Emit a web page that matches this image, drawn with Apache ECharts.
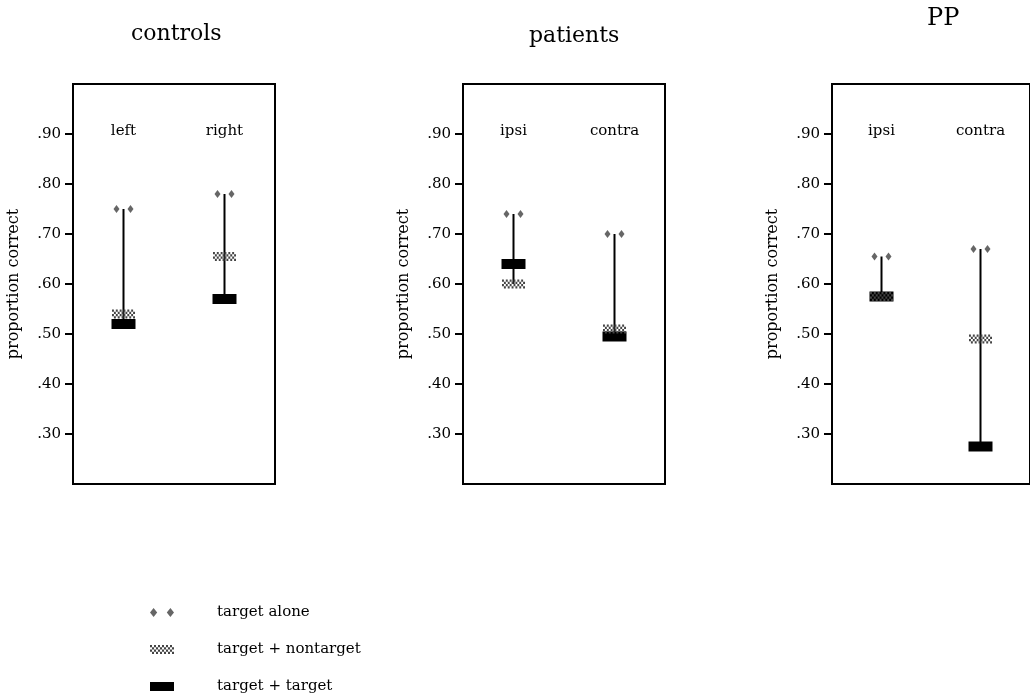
<!DOCTYPE html>
<html>
<head>
<meta charset="utf-8">
<script src="https://cdn.jsdelivr.net/npm/echarts@6/dist/echarts.min.js"></script>
<style>html,body{margin:0;padding:0;background:#fff;}#c{width:1030px;height:698px;}</style>
</head>
<body>
<div id="c"></div>
<script>
// ---- data ----
var panelTitles = ['controls', 'patients', 'PP'];
var controlsCats = ['left', 'right'];
var patientsCats = ['ipsi', 'contra'];
var ppCats = ['ipsi', 'contra'];

var controlsAlone = [0.75, 0.78];
var controlsNontarget = [0.54, 0.655];
var controlsTarget = [0.52, 0.57];

var patientsAlone = [0.74, 0.70];
var patientsNontarget = [0.60, 0.51];
var patientsTarget = [0.64, 0.495];

var ppAlone = [0.655, 0.67];
var ppNontarget = [0.575, 0.49];
var ppTarget = [0.575, 0.275];

var yTickValues = [0.3, 0.4, 0.5, 0.6, 0.7, 0.8, 0.9];
var yTickLabels = ['.30', '.40', '.50', '.60', '.70', '.80', '.90'];
var seriesNames = ['target alone', 'target + nontarget', 'target + target'];
var yName = 'proportion correct';

// ---- styles ----
function checkerPath(cols, rows) {
  var d = '';
  for (var r = 0; r < rows; r++) for (var c = 0; c < cols; c++)
    if ((r + c) % 2 === 0) d += 'M' + c + ',' + r + 'h1v1h-1Z';
  return 'path://' + d;
}
var aloneSym = 'path://M0,4L3,0L6,4L3,8Z M14,4L17,0L20,4L17,8Z';
var checkSym = checkerPath(12, 4);
var serif = 'DejaVu Serif';

var panels = [
  {cats: controlsCats, a: controlsAlone, n: controlsNontarget, t: controlsTarget, left: 73, tl: 126, tt: 18, ts: 22},
  {cats: patientsCats, a: patientsAlone, n: patientsNontarget, t: patientsTarget, left: 463, tl: 524, tt: 20, ts: 22},
  {cats: ppCats, a: ppAlone, n: ppNontarget, t: ppTarget, left: 832, tl: 922, tt: 2, ts: 24}
];

var grid = [], xAxis = [], yAxis = [], series = [], title = [];
panels.forEach(function (p, i) {
  grid.push({left: p.left, top: 84, width: 202, height: 400, show: true, borderColor: '#000', borderWidth: 2, backgroundColor: 'transparent'});
  title.push({text: panelTitles[i], left: p.tl, top: p.tt, textStyle: {fontFamily: serif, fontWeight: 'normal', fontSize: p.ts, color: '#000'}});
  xAxis.push({type: 'category', gridIndex: i, data: p.cats, position: 'top',
    axisLine: {show: false}, axisTick: {show: false}, splitLine: {show: false},
    axisLabel: {inside: true, margin: 40, color: '#000', fontFamily: serif, fontSize: 15}});
  yAxis.push({type: 'value', gridIndex: i, min: 0.2, max: 1.0, interval: 0.1,
    name: yName, nameLocation: 'middle', nameGap: 51, nameRotate: 90,
    nameTextStyle: {fontFamily: serif, fontSize: 16, color: '#000'},
    axisLine: {show: false}, splitLine: {show: false},
    axisTick: {show: true, inside: false, length: 8, lineStyle: {color: '#000', width: 2}, customValues: yTickValues},
    axisLabel: {margin: 12, color: '#000', fontFamily: serif, fontSize: 15, customValues: yTickValues,
      formatter: function (v) { var k = yTickValues.findIndex(function (t) { return Math.abs(t - v) < 1e-6; }); return k >= 0 ? yTickLabels[k] : ''; }}});
  var rangeData = p.cats.map(function (c, k) {
    var vals = [p.a[k], p.n[k], p.t[k]];
    return [k, Math.min.apply(null, vals), Math.max.apply(null, vals)];
  });
  series.push({type: 'custom', name: 'range', xAxisIndex: i, yAxisIndex: i, z: 1, silent: true,
    encode: {x: 0, y: [1, 2]}, data: rangeData,
    renderItem: function (params, api) {
      var a = api.coord([api.value(0), api.value(1)]);
      var b = api.coord([api.value(0), api.value(2)]);
      return {type: 'line', shape: {x1: a[0], y1: a[1], x2: b[0], y2: b[1]}, style: {stroke: '#000', lineWidth: 2}};
    }});
  series.push({type: 'scatter', name: seriesNames[2], xAxisIndex: i, yAxisIndex: i, z: 2,
    symbol: 'rect', symbolSize: [24, 10], itemStyle: {color: '#000', opacity: 1},
    data: p.t.map(function (v, k) { return [k, v]; })});
  series.push({type: 'scatter', name: seriesNames[1], xAxisIndex: i, yAxisIndex: i, z: 3,
    symbol: checkSym, symbolSize: [23, 9], symbolKeepAspect: false, itemStyle: {color: '#444', opacity: 1},
    data: p.n.map(function (v, k) { return [k, v]; })});
  series.push({type: 'scatter', name: seriesNames[0], xAxisIndex: i, yAxisIndex: i, z: 4,
    symbol: aloneSym, symbolSize: [20, 8], symbolKeepAspect: false, itemStyle: {color: '#666', opacity: 1},
    data: p.a.map(function (v, k) { return [k, v]; })});
});

var chart = echarts.init(document.getElementById('c'), null, {renderer: 'canvas'});
chart.setOption({
  animation: false,
  backgroundColor: '#fff',
  title: title,
  grid: grid, xAxis: xAxis, yAxis: yAxis, series: series,
  legend: {orient: 'vertical', left: 150, top: 605, height: 93, padding: 0, itemGap: 22, itemWidth: 24, itemHeight: 9,
    symbolKeepAspect: false, selectedMode: false,
    textStyle: {fontFamily: serif, fontSize: 15, color: '#000', lineHeight: 14, padding: [0, 0, 0, 38]},
    data: [
      {name: seriesNames[0], icon: aloneSym, itemStyle: {color: '#666', opacity: 1}},
      {name: seriesNames[1], icon: checkSym, itemStyle: {color: '#444', opacity: 1}},
      {name: seriesNames[2], icon: 'rect', itemStyle: {color: '#000', opacity: 1}}
    ]}
});
</script>
</body>
</html>
